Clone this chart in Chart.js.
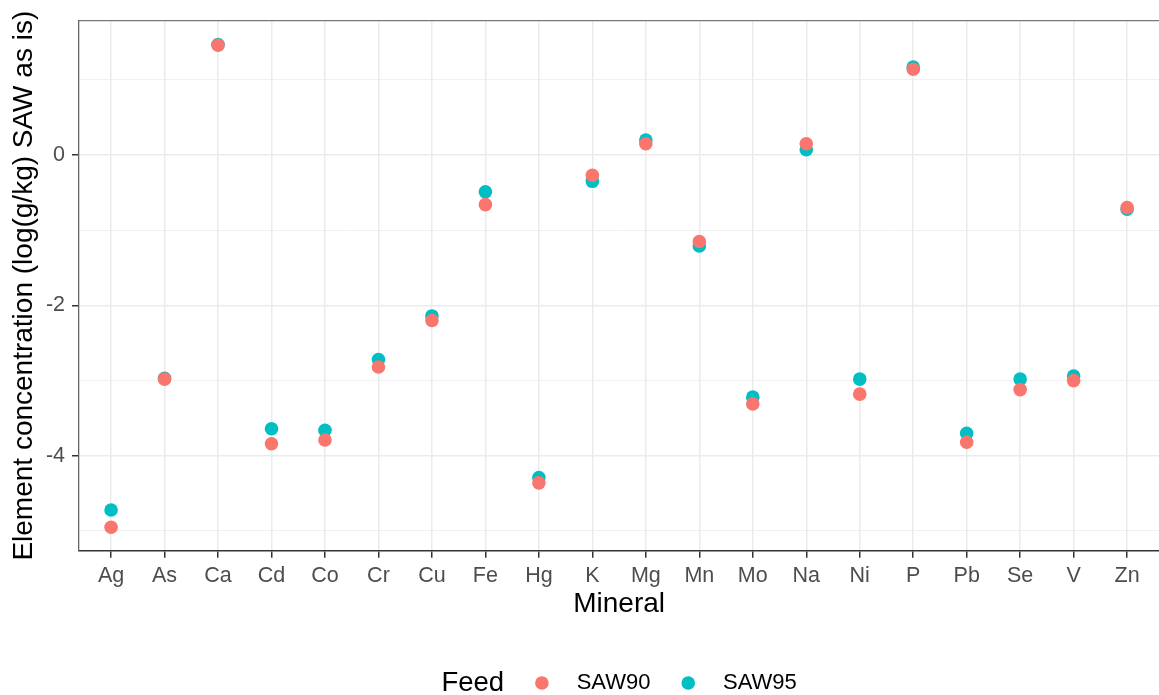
<!DOCTYPE html>
<html>
<head>
<meta charset="utf-8">
<title>Element concentration by mineral</title>
<script src="https://cdn.jsdelivr.net/npm/chart.js@4/dist/chart.umd.min.js"></script>
<style>
  html, body { margin: 0; padding: 0; background: #fff; overflow: hidden; }
  #wrap { width: 1159px; height: 695px; overflow: hidden; }
  canvas { display: block; }
</style>
</head>
<body>
<div id="wrap"><canvas id="chart" width="1166" height="695"></canvas></div>
<script>
'use strict';

const minerals = ['Ag', 'As', 'Ca', 'Cd', 'Co', 'Cr', 'Cu', 'Fe', 'Hg', 'K',
  'Mg', 'Mn', 'Mo', 'Na', 'Ni', 'P', 'Pb', 'Se', 'V', 'Zn'];

// log(g/kg)
const saw90 = [-4.95, -2.98, 1.46, -3.84, -3.79, -2.82, -2.20, -0.66, -4.36, -0.27,
  0.15, -1.15, -3.31, 0.15, -3.18, 1.14, -3.82, -3.12, -3.00, -0.70];
const saw95 = [-4.72, -2.97, 1.47, -3.64, -3.66, -2.72, -2.14, -0.49, -4.29, -0.35,
  0.20, -1.21, -3.22, 0.07, -2.98, 1.17, -3.70, -2.98, -2.94, -0.72];

const yTicks = [-5, -4, -3, -2, -1, 0, 1];

const FONT = '"Liberation Sans", Arial, sans-serif';
const RED = '#F8766D';
const TEAL = '#00BFC4';

const canvasElem = document.getElementById('chart');

// top border of the panel and the "Feed" legend below the axis
const extras = {
  id: 'extras',
  afterDraw(chart) {
    const ctx = chart.ctx;
    const area = chart.chartArea;
    ctx.save();
    ctx.strokeStyle = '#777';
    ctx.lineWidth = 1.3;
    ctx.beginPath();
    ctx.moveTo(area.left, area.top);
    ctx.lineTo(area.right, area.top);
    ctx.stroke();

    const items = chart.data.datasets.map(ds => ({ text: ds.label, color: ds.backgroundColor }));
    const titleFont = '27.5px ' + FONT;
    const labelFont = '22px ' + FONT;
    const r = 6.8;
    ctx.font = titleFont;
    const titleW = ctx.measureText('Feed').width;
    ctx.font = labelFont;
    let total = titleW;
    items.forEach(it => {
      it.w = ctx.measureText(it.text).width;
      total += 31 + 2 * r + 28 + it.w;
    });
    let x = (area.left + area.right) / 2 - total / 2;
    const y = 683;
    ctx.textBaseline = 'middle';
    ctx.textAlign = 'left';
    ctx.fillStyle = '#000';
    ctx.font = titleFont;
    ctx.fillText('Feed', x, y);
    x += titleW;
    ctx.font = labelFont;
    items.forEach(it => {
      x += 31;
      ctx.fillStyle = it.color;
      ctx.beginPath();
      ctx.arc(x + r, y, r, 0, Math.PI * 2);
      ctx.fill();
      x += 2 * r + 28;
      ctx.fillStyle = '#000';
      ctx.fillText(it.text, x, y);
      x += it.w;
    });
    ctx.restore();
  }
};

function renderChart() {
  const ctx = canvasElem.getContext('2d');

  const chartData = {
    datasets: [{
      label: 'SAW90',
      data: minerals.map((m, i) => ({ x: i, y: saw90[i] })),
      backgroundColor: RED,
      borderWidth: 0,
      pointRadius: 6.8,
      pointHoverRadius: 6.8
    },
    {
      label: 'SAW95',
      data: minerals.map((m, i) => ({ x: i, y: saw95[i] })),
      backgroundColor: TEAL,
      borderWidth: 0,
      pointRadius: 6.8,
      pointHoverRadius: 6.8
    }]
  };

  const chartOptions = {
    responsive: false,
    animation: false,
    devicePixelRatio: 1,
    layout: { padding: { left: 0, top: 20.7, right: 0, bottom: 0 } },
    plugins: {
      legend: { display: false },
      tooltip: { enabled: false }
    },
    events: [],
    scales: {
      x: {
        type: 'linear',
        min: -0.6,
        max: minerals.length - 1 + 0.6,
        afterBuildTicks: scale => {
          scale.ticks = minerals.map((m, i) => ({ value: i }));
        },
        afterFit: scale => { scale.height = 144.3; },
        ticks: {
          autoSkip: false,
          maxRotation: 0,
          padding: 5,
          color: '#4D4D4D',
          font: { family: FONT, size: 21.5 },
          callback: v => minerals[v]
        },
        grid: {
          color: '#EBEBEB',
          lineWidth: 1.5,
          tickLength: 7,
          tickColor: '#333',
          tickWidth: 1.5
        },
        border: { color: '#333', width: 1.5 },
        title: {
          display: true,
          text: 'Mineral',
          color: '#000',
          font: { family: FONT, size: 28 },
          padding: { top: 0, bottom: 74 }
        }
      },
      y: {
        type: 'linear',
        min: -5.262,
        max: 1.786,
        afterBuildTicks: scale => {
          scale.ticks = yTicks.map(v => ({ value: v }));
        },
        afterFit: scale => { scale.width = 79; },
        ticks: {
          padding: 7,
          color: '#4D4D4D',
          font: { family: FONT, size: 21.5 },
          callback: v => (v % 2 === 0 ? String(v) : '')
        },
        grid: {
          color: '#EBEBEB',
          lineWidth: c => (c.tick && c.tick.value % 2 === 0 ? 1.5 : 0.75),
          tickLength: 7,
          tickColor: c => (c.tick && c.tick.value % 2 === 0 ? '#333' : 'rgba(0,0,0,0)'),
          tickWidth: 1.5
        },
        border: { color: '#666', width: 1.3 },
        title: {
          display: true,
          text: 'Element concentration (log(g/kg) SAW as is)',
          color: '#000',
          font: { family: FONT, size: 28 },
          padding: { top: 7, bottom: 0 }
        }
      }
    }
  };

  new Chart(ctx, {
    type: 'scatter',
    data: chartData,
    options: chartOptions,
    plugins: [extras]
  });
}

renderChart();
</script>
</body>
</html>
